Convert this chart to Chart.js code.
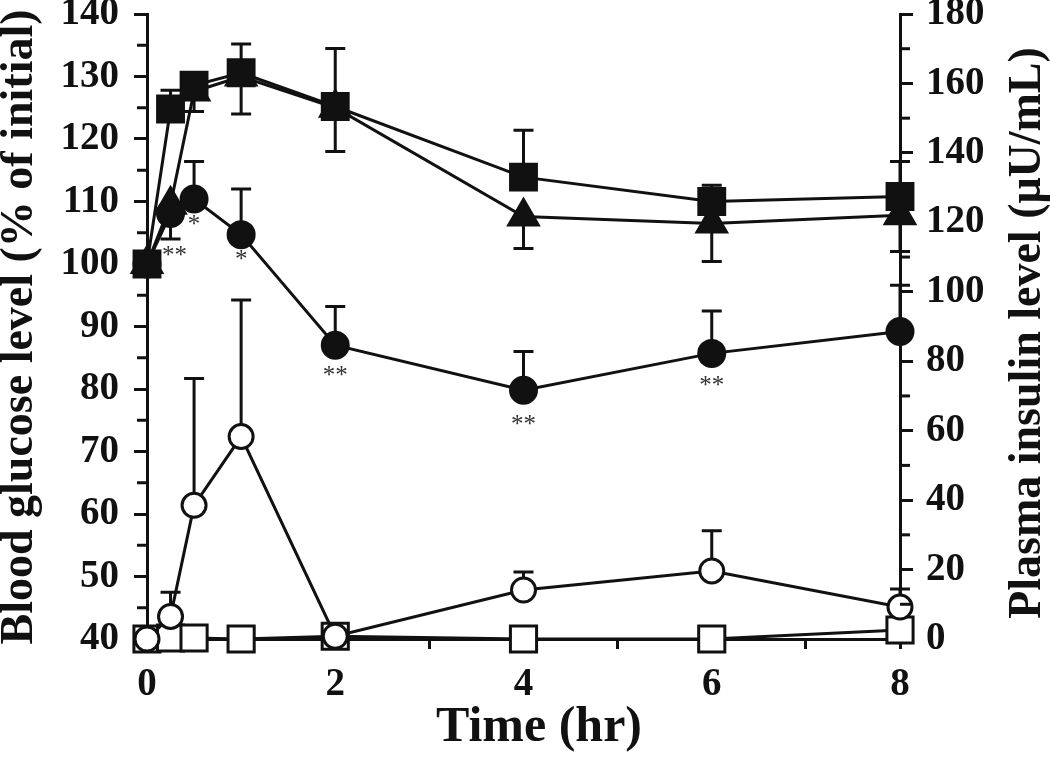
<!DOCTYPE html>
<html><head><meta charset="utf-8">
<script src="https://cdn.jsdelivr.net/npm/chart.js@4.4.1/dist/chart.umd.min.js"></script>
<style>html,body{margin:0;padding:0;background:#fff;}#wrap{width:1050px;height:761px;}</style>
</head><body><div id="wrap"><canvas id="c" width="1050" height="761"></canvas></div>
<script>
// ---- data ----
const times = [0, 0.25, 0.5, 1, 2, 4, 6, 8];
const xTickLabels = ['0', '2', '4', '6', '8'];
const glucoseSquare = [100, 124.8, 128.6, 130.6, 125.2, 113.9, 110.0, 110.8];
const glucoseSquareSD = [0, 3.0, 1.5, 4.6, 9.3, 7.5, 2.6, 5.6];
const glucoseTriangle = [100, 109.5, 127.6, 130.0, 125.0, 107.6, 106.5, 107.8];
const glucoseTriangleSD = [0, 5.5, 3.2, 6.0, 7.0, 5.1, 6.1, 5.8];
const glucoseCircle = [100, 108.1, 110.4, 104.7, 87.0, 79.8, 85.7, 89.2];
const glucoseCircleSD = [0, 1.0, 6.0, 7.3, 6.2, 6.2, 6.8, 7.4];
const insulinCircle = [0, 6.5, 38.5, 58.3, 0.8, 14.1, 19.6, 9.2];
const insulinCircleSD = [0, 7.0, 36.5, 39.3, 0, 5.2, 11.6, 5.2];
const insulinSquare = [0, 0.3, 0.3, 0, 0.8, 0, 0, 2.6];
const circleSignificance = ['', '**', '*', '*', '**', '**', '**', ''];
const leftTitle = 'Blood glucose level (% of initial)';
const rightTitle = 'Plasma insulin level (\u03bcU/mL)';
const xTitle = 'Time (hr)';

const INK = '#111';
const SERIF = '"Liberation Serif","Times New Roman",serif';
const pts = arr => arr.map((v, i) => ({x: times[i], y: v}));

const errorBars = {
  id: 'errorBars',
  beforeDatasetsDraw(chart) {
    const ctx = chart.ctx, xs = chart.scales.x;
    ctx.save();
    ctx.strokeStyle = INK; ctx.lineWidth = 3; ctx.lineCap = 'butt';
    chart.data.datasets.forEach(ds => {
      if (!ds.errSD) return;
      const ys = chart.scales[ds.yAxisID];
      ds.data.forEach((p, i) => {
        const sd = ds.errSD[i];
        if (!sd) return;
        const x = xs.getPixelForValue(p.x);
        const y0 = ys.getPixelForValue(p.y);
        const y1 = ys.getPixelForValue(ds.errDir === 'down' ? p.y - sd : p.y + sd);
        ctx.beginPath();
        ctx.moveTo(x, y0); ctx.lineTo(x, y1);
        ctx.moveTo(x - 10, y1); ctx.lineTo(x + 10, y1);
        ctx.stroke();
      });
    });
    ctx.restore();
  }
};

const extras = {
  id: 'extras',
  afterDraw(chart) {
    const ctx = chart.ctx;
    const yl = chart.scales.y, yr = chart.scales.y2, xs = chart.scales.x;
    ctx.save();
    ctx.strokeStyle = INK; ctx.lineWidth = 3;
    // minor ticks
    for (let v = 45; v < 140; v += 10) {
      const y = yl.getPixelForValue(v);
      ctx.beginPath(); ctx.moveTo(yl.right - 10, y); ctx.lineTo(yl.right, y); ctx.stroke();
    }
    for (let v = 10; v < 180; v += 20) {
      const y = yr.getPixelForValue(v);
      ctx.beginPath(); ctx.moveTo(yr.left, y); ctx.lineTo(yr.left + 10, y); ctx.stroke();
    }
    // significance marks under filled circles
    ctx.fillStyle = '#333';
    ctx.font = '25px ' + SERIF;
    ctx.textAlign = 'center'; ctx.textBaseline = 'middle';
    const offs = [0, 38, 21, 21, 26, 30, 28, 0];
    circleSignificance.forEach((s, i) => {
      if (!s) return;
      const x = xs.getPixelForValue(times[i]) + (i === 1 ? 4 : 0);
      const y = yl.getPixelForValue(glucoseCircle[i]) + offs[i] + 5;
      ctx.fillText(s, x, y);
    });
    // axis titles
    ctx.fillStyle = INK;
    ctx.font = 'bold 46px ' + SERIF;
    ctx.textAlign = 'center'; ctx.textBaseline = 'alphabetic';
    ctx.save(); ctx.translate(32, 327); ctx.rotate(-Math.PI / 2); ctx.fillText(leftTitle, 0, 0); ctx.restore();
    ctx.save(); ctx.translate(1040, 333); ctx.rotate(-Math.PI / 2); ctx.fillText(rightTitle, 0, 0); ctx.restore();
    ctx.font = 'bold 50px ' + SERIF;
    ctx.fillText(xTitle, 539, 741);
    ctx.restore();
  }
};

const fixLeft = s => { s.width = 147; s.paddingTop = 0; s.paddingBottom = 0; };
const fixRight = s => { s.width = 150; s.paddingTop = 0; s.paddingBottom = 0; };
const fixBottom = s => { s.height = 122; s.paddingLeft = 0; s.paddingRight = 0; };

const tickFont = {family: SERIF, size: 39, weight: 'bold'};
const axisGrid = len => ({display: true, drawOnChartArea: false, drawTicks: true, tickLength: len, lineWidth: 3, color: INK});
const axisBorder = {display: true, width: 3, color: INK};

const common = {showLine: true, borderColor: INK, borderWidth: 3, pointBorderColor: INK, clip: false, tension: 0};

new Chart(document.getElementById('c'), {
  type: 'scatter',
  data: {
    datasets: [
      Object.assign({}, common, {label: 'glucose circle', data: pts(glucoseCircle), yAxisID: 'y',
        pointStyle: 'circle', pointRadius: 13, pointBackgroundColor: INK, pointBorderWidth: 3,
        errSD: glucoseCircleSD, errDir: 'up'}),
      Object.assign({}, common, {label: 'glucose square', data: pts(glucoseSquare), yAxisID: 'y',
        pointStyle: 'rect', pointRadius: 19, pointBackgroundColor: INK, pointBorderWidth: 2,
        errSD: glucoseSquareSD, errDir: 'up'}),
      Object.assign({}, common, {label: 'glucose triangle', data: pts(glucoseTriangle), yAxisID: 'y',
        pointStyle: 'triangle', pointRadius: 18, pointBackgroundColor: INK, pointBorderWidth: 2,
        errSD: glucoseTriangleSD, errDir: 'down'}),
      Object.assign({}, common, {label: 'insulin circle', data: pts(insulinCircle), yAxisID: 'y2',
        pointStyle: 'circle', pointRadius: 12, pointBackgroundColor: '#fff', pointBorderWidth: 3,
        errSD: insulinCircleSD, errDir: 'up'}),
      Object.assign({}, common, {label: 'insulin square', data: pts(insulinSquare), yAxisID: 'y2',
        pointStyle: 'rect', pointRadius: 18.5, pointBackgroundColor: '#fff', pointBorderWidth: 3})
    ]
  },
  options: {
    responsive: false,
    devicePixelRatio: 1,
    animation: false,
    layout: {autoPadding: false, padding: {top: 14, left: 0, right: 0, bottom: 0}},
    plugins: {legend: {display: false}, tooltip: {enabled: false}},
    scales: {
      x: {
        type: 'linear', position: 'bottom', min: 0, max: 8,
        afterFit: fixBottom,
        grid: axisGrid(10), border: axisBorder,
        ticks: {stepSize: 1, color: INK, font: tickFont, padding: 13, maxRotation: 0, autoSkip: false,
          callback: v => (xTickLabels.includes(String(v)) ? String(v) : '')}
      },
      y: {
        type: 'linear', position: 'left', min: 40, max: 140,
        afterFit: fixLeft,
        grid: axisGrid(13), border: axisBorder,
        ticks: {stepSize: 10, color: INK, font: tickFont, padding: 15}
      },
      y2: {
        type: 'linear', position: 'right', min: 0, max: 180,
        afterFit: fixRight,
        grid: axisGrid(13), border: axisBorder,
        ticks: {stepSize: 20, color: INK, font: tickFont, padding: 13}
      }
    }
  },
  plugins: [errorBars, extras]
});
</script>
</body></html>
